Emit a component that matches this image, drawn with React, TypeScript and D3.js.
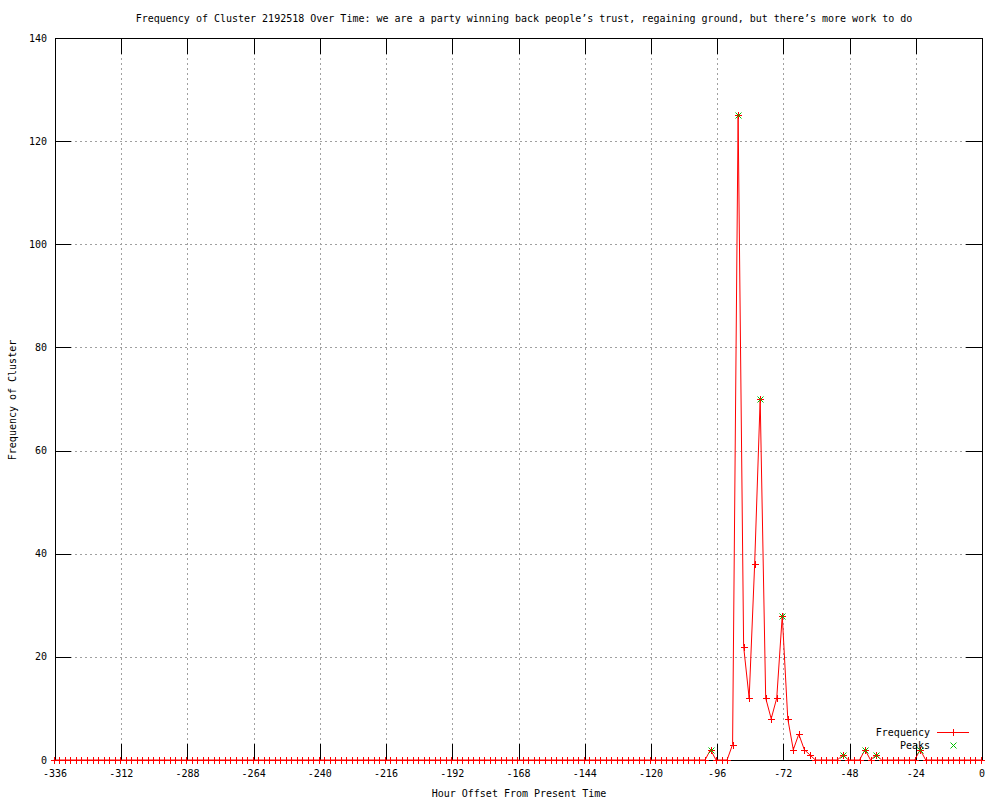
import React from "react";
import * as d3 from "d3";

// Hour offsets of the samples (every 2 hours, slightly offset from the even hours)
const FIRST_HOUR = -336.4;
const STEP_HOURS = 2;
const SAMPLE_COUNT = 169;

// Frequency values (one per sample)
const frequency: number[] = [
  0, 0, 0, 0, 0, 0, 0, 0, 0, 0,
  0, 0, 0, 0, 0, 0, 0, 0, 0, 0,
  0, 0, 0, 0, 0, 0, 0, 0, 0, 0,
  0, 0, 0, 0, 0, 0, 0, 0, 0, 0,
  0, 0, 0, 0, 0, 0, 0, 0, 0, 0,
  0, 0, 0, 0, 0, 0, 0, 0, 0, 0,
  0, 0, 0, 0, 0, 0, 0, 0, 0, 0,
  0, 0, 0, 0, 0, 0, 0, 0, 0, 0,
  0, 0, 0, 0, 0, 0, 0, 0, 0, 0,
  0, 0, 0, 0, 0, 0, 0, 0, 0, 0,
  0, 0, 0, 0, 0, 0, 0, 0, 0, 0,
  0, 0, 0, 0, 0, 0, 0, 0, 0, 2,
  0, 0, 0, 3, 125, 22, 12, 38, 70, 12,
  8, 12, 28, 8, 2, 5, 2, 1, 0, 0,
  0, 0, 0, 1, 0, 0, 0, 2, 0, 1,
  0, 0, 0, 0, 0, 0, 0, 2, 0, 0,
  0, 0, 0, 0, 0, 0, 0, 0, 0,
];

// Peaks
const peakHours: number[] = [-98.4, -88.4, -80.4, -72.4, -50.4, -42.4, -38.4, -22.4];
const peakValues: number[] = [2, 125, 70, 28, 1, 2, 1, 2];

// Axis ticks
const xTicks: number[] = [-336, -312, -288, -264, -240, -216, -192, -168, -144, -120, -96, -72, -48, -24, 0];
const yTicks: number[] = [0, 20, 40, 60, 80, 100, 120, 140];

const TITLE =
  "Frequency of Cluster 2192518 Over Time: we are a party winning back people\u2019s trust, regaining ground, but there\u2019s more work to do";

const W = 1000;
const H = 800;
const LEFT = 55;
const RIGHT = 982;
const TOP = 38;
const BOTTOM = 760;
const TICK = 16;
const FONT = "'DejaVu Sans Mono', 'Liberation Mono', monospace";
const RED = "#ff0000";
const GREEN = "#00c000";

export default function App() {
  const hours = d3.range(SAMPLE_COUNT).map((k) => FIRST_HOUR + STEP_HOURS * k);
  const points = hours.map((h, i) => ({ h, v: frequency[i] }));
  const peaks = peakHours.map((h, i) => ({ h, v: peakValues[i] }));

  const x = d3.scaleLinear().domain([-336, 0]).range([LEFT, RIGHT]);
  const y = d3.scaleLinear().domain([0, 140]).range([BOTTOM, TOP]);

  const line = d3
    .line<{ h: number; v: number }>()
    .x((d) => x(d.h))
    .y((d) => y(d.v));

  const px = (v: number) => Math.round(v) + 0.5;

  const plus = (cx: number, cy: number, key: string, color: string) => {
    const X = px(cx);
    const Y = px(cy);
    return (
      <path
        key={key}
        d={`M${X - 3.5},${Y}H${X + 3.5}M${X},${Y - 3.5}V${Y + 3.5}`}
        stroke={color}
        strokeWidth={1}
        fill="none"
      />
    );
  };
  const cross = (cx: number, cy: number, key: string, color: string) => {
    const X = px(cx);
    const Y = px(cy);
    const r = 3;
    return (
      <path
        key={key}
        d={`M${X - r},${Y - r}L${X + r},${Y + r}M${X - r},${Y + r}L${X + r},${Y - r}`}
        stroke={color}
        strokeWidth={1}
        fill="none"
      />
    );
  };

  return (
    <svg
      width={W}
      height={H}
      viewBox={`0 0 ${W} ${H}`}
      style={{ position: "absolute", left: 0, top: 0, background: "#fff" }}
      fontFamily={FONT}
      fontSize={10}
    >
      <rect x={0} y={0} width={W} height={H} fill="#fff" />
      {/* grid */}
      <g stroke="#a0a0a0" strokeWidth={1} strokeDasharray="2,3" shapeRendering="crispEdges">
        {xTicks
          .filter((t) => t !== -336 && t !== 0)
          .map((t) => (
            <line key={`gx${t}`} x1={px(x(t))} x2={px(x(t))} y1={TOP} y2={BOTTOM} />
          ))}
        {yTicks
          .filter((t) => t !== 0 && t !== 140)
          .map((t) => (
            <line key={`gy${t}`} x1={LEFT} x2={RIGHT} y1={px(y(t))} y2={px(y(t))} />
          ))}
      </g>
      {/* ticks */}
      <g stroke="#000" strokeWidth={1} shapeRendering="crispEdges">
        {xTicks.map((t) => (
          <g key={`tx${t}`}>
            <line x1={px(x(t))} x2={px(x(t))} y1={BOTTOM} y2={BOTTOM - TICK} />
            <line x1={px(x(t))} x2={px(x(t))} y1={TOP} y2={TOP + TICK} />
          </g>
        ))}
        {yTicks.map((t) => (
          <g key={`ty${t}`}>
            <line x1={LEFT} x2={LEFT + TICK} y1={px(y(t))} y2={px(y(t))} />
            <line x1={RIGHT} x2={RIGHT - TICK} y1={px(y(t))} y2={px(y(t))} />
          </g>
        ))}
      </g>
      {/* border */}
      <rect
        x={px(LEFT)}
        y={px(TOP)}
        width={Math.round(RIGHT) - Math.round(LEFT)}
        height={Math.round(BOTTOM) - Math.round(TOP)}
        fill="none"
        stroke="#000"
        strokeWidth={1}
        shapeRendering="crispEdges"
      />
      {/* tick labels */}
      {xTicks.map((t) => (
        <text key={`lx${t}`} x={x(t)} y={777} textAnchor="middle" fill="#000">
          {t}
        </text>
      ))}
      {yTicks.map((t) => (
        <text key={`ly${t}`} x={47} y={y(t) + 3.5} textAnchor="end" fill="#000">
          {t}
        </text>
      ))}
      {/* titles */}
      <text x={524} y={22} textAnchor="middle" fill="#000">
        {TITLE}
      </text>
      <text x={519} y={797} textAnchor="middle" fill="#000">
        Hour Offset From Present Time
      </text>
      <text x={16} y={400} textAnchor="middle" fill="#000" transform="rotate(-90 16 400)">
        Frequency of Cluster
      </text>
      {/* data */}
      <path d={line(points) || ""} fill="none" stroke={RED} strokeWidth={1} />
      {points.map((d, i) => plus(x(d.h), y(d.v), `p${i}`, RED))}
      {peaks.map((d, i) => cross(x(d.h), y(d.v), `k${i}`, GREEN))}
      {/* legend */}
      <text x={930} y={736} textAnchor="end" fill="#000">
        Frequency
      </text>
      <line x1={937} x2={969} y1={732.5} y2={732.5} stroke={RED} strokeWidth={1} />
      {plus(953, 732, "legp", RED)}
      <text x={930} y={749} textAnchor="end" fill="#000">
        Peaks
      </text>
      {cross(953, 745, "legk", GREEN)}
    </svg>
  );
}
